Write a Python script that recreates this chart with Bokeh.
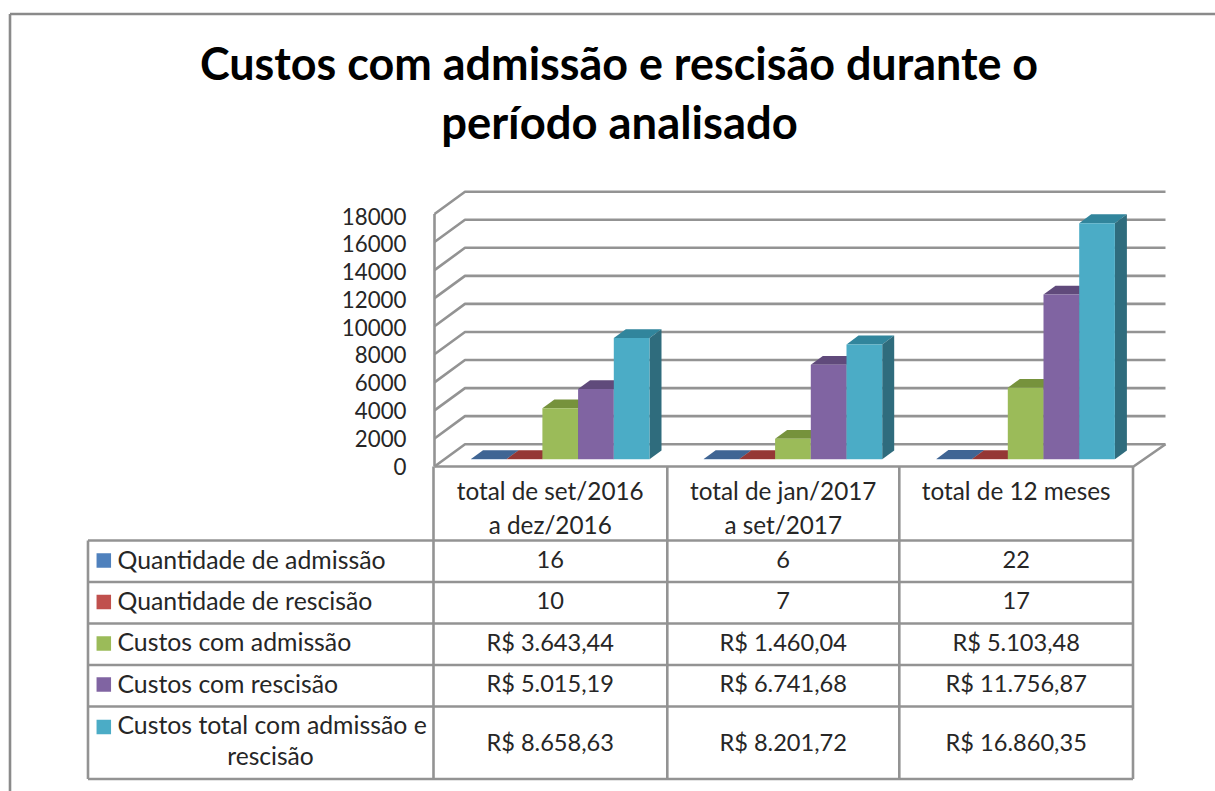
from bokeh.plotting import figure
from bokeh.models import Range1d, LinearAxis, FixedTicker
from bokeh.core.properties import value
from bokeh.embed import file_html
from bokeh.resources import INLINE

# ---- data ----
title_lines = ["Custos com admissão e rescisão durante o", "período analisado"]
categories = [["total de set/2016", "a dez/2016"], ["total de jan/2017", "a set/2017"], ["total de 12 meses"]]
series_names = ["Quantidade de admissão", "Quantidade de rescisão", "Custos com admissão",
                "Custos com rescisão", "Custos total com admissão e"]
series_name_extra = "rescisão"
quant_admissao = [16, 6, 22]
quant_rescisao = [10, 7, 17]
custos_admissao = [3643.44, 1460.04, 5103.48]
custos_rescisao = [5015.19, 6741.68, 11756.87]
custos_total = [8658.63, 8201.72, 16860.35]
y_ticks = [0, 2000, 4000, 6000, 8000, 10000, 12000, 14000, 16000, 18000]
face_colors = ["#4f81bd", "#c0504d", "#9bbb59", "#8064a2", "#4bacc6"]
top_colors = ["#3f6594", "#953735", "#76923c", "#604a7b", "#31859c"]
side_colors = ["#2f5078", "#772c2a", "#5e7530", "#4d3b62", "#2f6c7d"]
GRAY = "#939393"
FONT = value("Lato")


def brl(v):
    s = f"{v:,.2f}".replace(",", "X").replace(".", ",").replace("X", ".")
    return "R$ " + s


all_series = [quant_admissao, quant_rescisao, custos_admissao, custos_rescisao, custos_total]

# ---- page geometry (x in page pixels, layout y in page pixels) ----
W, H = 1215, 791
p = figure(width=W, height=H, output_backend="svg", toolbar_location=None,
           x_range=Range1d(0, W), min_border=0,
           x_axis_type=None, y_axis_type=None)
p.outline_line_color = None
p.grid.visible = False

BAR_SCALE = 0.014      # px per unit, bars
BAR_BASE = 458.7
WALL_SCALE = 252.5 / 18000
LABEL_SCALE = 250.0 / 18000
AXIS_BASE = 466.0
p.y_range = Range1d((BAR_BASE - H) / BAR_SCALE, BAR_BASE / BAR_SCALE)
p.extra_y_ranges = {
    "page": Range1d(H, 0),
    "wall": Range1d((AXIS_BASE - H) / WALL_SCALE, AXIS_BASE / WALL_SCALE),
    "labels": Range1d((AXIS_BASE - 0.5 - H) / LABEL_SCALE, (AXIS_BASE - 0.5) / LABEL_SCALE),
}

LW = 2.6
# outer frame
p.multi_line(xs=[[9.5, 9.5], [9.5, W]], ys=[[H, 13.5], [13.5, 13.5]],
             y_range_name="page", line_color="#8a8a8a", line_width=LW)

# walls: gridlines in the wall scale
DEPTH_X = 30.5
DEPTH_Y = 22.3 / WALL_SCALE
X0, X1 = 434.0, 1133.0
xs, ys = [], []
for t in y_ticks:
    xs.append([X0, X0 + DEPTH_X, X1 + 32])
    ys.append([t, t + DEPTH_Y, t + DEPTH_Y])
p.multi_line(xs=xs, ys=ys, y_range_name="wall", line_color=GRAY, line_width=LW)
# floor and front-left wall edge
p.line(x=[X0, X1, X1 + 32], y=[0, 0, DEPTH_Y], y_range_name="wall", line_color=GRAY, line_width=LW)
p.line(x=[X0, X0], y=[y_ticks[0], y_ticks[-1]], y_range_name="wall", line_color=GRAY, line_width=LW)

# bars
BAR_W = 35.7
GROUP_STEP = 232.7
GROUP_X0 = 470.5
BD_X = 12.0
BD_Y = 8.8 / BAR_SCALE
for si, vals in enumerate(all_series):
    lefts = [GROUP_X0 + g * GROUP_STEP + si * BAR_W for g in range(len(vals))]
    rights = [l + BAR_W for l in lefts]
    p.patches(xs=[[l, r, r + BD_X, l + BD_X] for l, r in zip(lefts, rights)],
              ys=[[v, v, v + BD_Y, v + BD_Y] for v in vals],
              fill_color=top_colors[si], line_color=None)
    p.patches(xs=[[r, r + BD_X, r + BD_X, r] for r in rights],
              ys=[[0, BD_Y, v + BD_Y, v] for v in vals],
              fill_color=side_colors[si], line_color=None)
    p.vbar(x=[l + BAR_W / 2 for l in lefts], top=vals, bottom=0, width=BAR_W,
           fill_color=face_colors[si], line_color=None)

# y axis labels next to the front-left edge of the wall
axis = LinearAxis(y_range_name="labels", ticker=FixedTicker(ticks=y_ticks), fixed_location=X0)
axis.axis_line_color = None
axis.major_tick_line_color = None
axis.minor_tick_line_color = None
axis.major_label_standoff = 22
axis.major_label_text_font = "Lato"
axis.major_label_text_font_size = "22.3px"
axis.major_label_text_color = "#262626"
p.add_layout(axis, "left")

# table
COLS = [433.0, 666.8, 898.8, 1132.5]
ROWS = [540.0, 581.5, 623.0, 664.5, 706.0, 778.5]
TL = 87.5
txs = [[TL, COLS[-1]] for _ in ROWS] + [[TL, TL]]
tys = [[r, r] for r in ROWS] + [[ROWS[0], ROWS[-1]]]
for c in COLS:
    txs.append([c, c])
    tys.append([466.0, ROWS[-1]])
p.multi_line(xs=txs, ys=tys, y_range_name="page", line_color=GRAY, line_width=LW)

# legend swatches and names
p.rect(x=[103.3] * 5, y=[560, 601.5, 643, 684, 726.5], width=14.5, height=14.5,
       y_range_name="page", fill_color=face_colors, line_color=None)


def txt(x, y, s, size, align="center", weight="normal", color="#262626"):
    p.text(x=x, y=y, text=s, y_range_name="page", text_font=FONT, text_font_size=size,
           text_align=align, text_baseline="middle", text_font_style=weight, text_color=color)


row_text_y = [558.5, 599.5, 641, 682.5, 724]
txt([117] * 5, row_text_y, series_names, "24.8px", align="left")
txt([270], [755], [series_name_extra], "24.6px")

col_centers = [549.7, 782.7, 1015.7]
for ci, lines in enumerate(categories):
    txt([col_centers[ci]] * len(lines), [490, 524][:len(lines)], lines, "24.3px")
cell_y = [558.5, 599.5, 641, 682.5, 741]
for ci, cx in enumerate(col_centers):
    cells = [str(quant_admissao[ci]), str(quant_rescisao[ci]), brl(custos_admissao[ci]),
             brl(custos_rescisao[ci]), brl(custos_total[ci])]
    txt([cx] * 5, cell_y, cells, "23.6px")

# title
txt([618.5], [62], title_lines[:1], "44.9px", weight="bold", color="#000000")
txt([619], [121], title_lines[1:], "45.4px", weight="bold", color="#000000")

open("out.html", "w").write(file_html(p, INLINE))
